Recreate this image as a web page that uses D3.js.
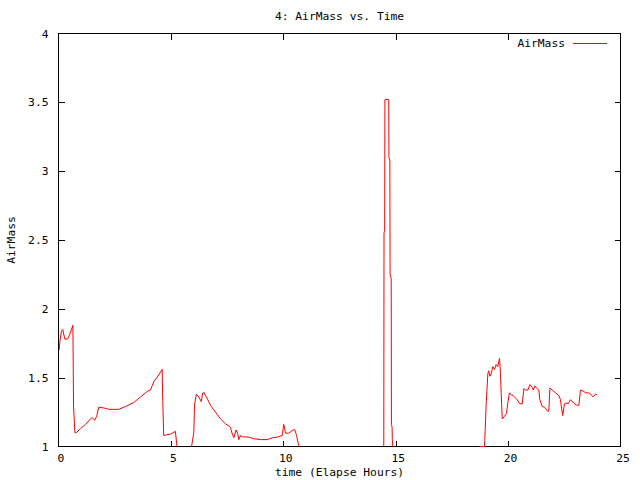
<!DOCTYPE html>
<html>
<head>
<meta charset="utf-8">
<script src="https://cdn.jsdelivr.net/npm/d3@7"></script>
<style>
  html, body { margin: 0; padding: 0; background: #fff; }
  svg { display: block; }
  text { font-family: "DejaVu Sans Mono", monospace; font-size: 11.3px; fill: #000; }
</style>
</head>
<body>
<svg id="chart" width="640" height="480"></svg>
<script>
// ---- data ----
const title = "4: AirMass vs. Time";
const xLabel = "time (Elapse Hours)";
const yLabel = "AirMass";
const seriesName = "AirMass";
const xTicks = [0, 5, 10, 15, 20, 25];
const yTicks = [1, 1.5, 2, 2.5, 3, 3.5, 4];

// elapsed hours
const timeHours = [
  0.03, 0.06, 0.13, 0.19, 0.28, 0.40, 0.49, 0.64, 0.65, 0.67, 0.73, 0.79, 0.98, 1.20, 1.42,
  1.50, 1.61, 1.70, 1.79, 2.02, 2.24, 2.68, 2.98, 3.35, 3.65, 3.95, 4.09, 4.24, 4.46, 4.61,
  4.64, 4.68, 4.80, 4.98, 5.20, 5.27,
  5.60,
  5.92, 6.02, 6.05, 6.13, 6.24, 6.35, 6.42, 6.46, 6.61, 6.76, 6.98, 7.21, 7.43, 7.65, 7.70,
  7.80, 7.90, 7.98, 8.02, 8.10, 8.17, 8.32, 8.47, 8.69, 8.99, 9.28, 9.51, 9.73, 9.95, 10.02,
  10.10, 10.24, 10.40, 10.51, 10.59, 10.66, 10.71,
  12.50,
  14.47, 14.48, 14.51, 14.52, 14.69, 14.70, 14.74, 14.75, 14.80, 14.81, 14.84, 14.85, 14.87,
  17.00,
  18.74, 18.95, 18.98, 19.03, 19.10, 19.14, 19.19, 19.25, 19.32, 19.40, 19.47, 19.54, 19.62,
  19.66, 19.71, 19.74, 19.84, 19.93, 19.99, 20.06, 20.14, 20.23, 20.40, 20.52, 20.63, 20.70,
  20.77, 20.88, 20.97, 21.07, 21.12, 21.19, 21.29, 21.37, 21.41, 21.52, 21.62, 21.74, 21.81,
  21.86, 21.96, 22.11, 22.26, 22.33, 22.36, 22.43, 22.51, 22.58, 22.67, 22.78, 22.92, 23.04,
  23.15, 23.22, 23.37, 23.44, 23.59, 23.74, 23.78, 23.89, 23.96
];

// airmass (values below 1 are off the plotted range and get clipped)
const airMass = [
  1.70, 1.76, 1.84, 1.85, 1.78, 1.78, 1.81, 1.88, 1.68, 1.29, 1.10, 1.10, 1.13, 1.16, 1.20,
  1.21, 1.19, 1.22, 1.285, 1.28, 1.27, 1.27, 1.29, 1.32, 1.36, 1.40, 1.41, 1.47, 1.52, 1.56,
  1.32, 1.08, 1.085, 1.09, 1.11, 1.00,
  0.00,
  1.00, 1.105, 1.30, 1.38, 1.36, 1.327, 1.39, 1.395, 1.35, 1.30, 1.25, 1.20, 1.165, 1.14, 1.105,
  1.063, 1.12, 1.09, 1.05, 1.08, 1.07, 1.07, 1.068, 1.056, 1.05, 1.05, 1.063, 1.068, 1.08, 1.16,
  1.097, 1.097, 1.116, 1.123, 1.08, 1.024, 1.00,
  0.00,
  1.00, 2.55, 2.57, 3.52, 3.52, 3.10, 3.08, 2.25, 2.22, 1.16, 1.14, 1.05, 1.00,
  0.00,
  1.00, 1.00, 1.116, 1.327, 1.53, 1.55, 1.51, 1.53, 1.58, 1.56, 1.595, 1.58, 1.64,
  1.53, 1.31, 1.20, 1.22, 1.24, 1.32, 1.39, 1.375, 1.37, 1.34, 1.31, 1.31, 1.42,
  1.41, 1.41, 1.45, 1.43, 1.41, 1.44, 1.42, 1.41, 1.34, 1.29, 1.285, 1.26, 1.256,
  1.426, 1.41, 1.39, 1.37, 1.34, 1.30, 1.225, 1.31, 1.317, 1.31, 1.34, 1.315, 1.30,
  1.30, 1.41, 1.40, 1.39, 1.39, 1.37, 1.36, 1.38, 1.375
];

// ---- layout ----
const svg = d3.select("#chart");
const L = 58.5, R = 620.5, T = 33.5, B = 446.5;
const x = d3.scaleLinear().domain([0, 25]).range([L, R]);
const y = d3.scaleLinear().domain([1, 4]).range([B, T]);
const tickLen = 6;

// frame
svg.append("rect")
  .attr("x", L).attr("y", T).attr("width", R - L).attr("height", B - T)
  .attr("fill", "none").attr("stroke", "#000").attr("stroke-width", 1)
  .attr("shape-rendering", "crispEdges");

// axes: bottom/left with labels, top/right mirrored without labels
const fmt = d => String(d);
const axB = svg.append("g").attr("transform", `translate(0,${B})`)
  .call(d3.axisBottom(x).tickValues(xTicks).tickSize(-tickLen).tickPadding(7).tickFormat(fmt));
const axT = svg.append("g").attr("transform", `translate(0,${T})`)
  .call(d3.axisTop(x).tickValues(xTicks.slice(1, -1)).tickSize(-tickLen).tickFormat(""));
const axL = svg.append("g").attr("transform", `translate(${L},0)`)
  .call(d3.axisLeft(y).tickValues(yTicks).tickSize(-tickLen).tickPadding(10).tickFormat(fmt));
const axR = svg.append("g").attr("transform", `translate(${R},0)`)
  .call(d3.axisRight(y).tickValues(yTicks.slice(1, -1)).tickSize(-tickLen).tickFormat(""));

[axB, axT, axL, axR].forEach(g => {
  g.select(".domain").remove();
  g.selectAll(".tick line").attr("stroke", "#000").attr("shape-rendering", "crispEdges");
  g.selectAll("text").attr("font-family", null).attr("font-size", null).attr("fill", "#000");
});
axB.selectAll("text").attr("dx", 2);
axB.selectAll(".tick line").filter(d => d === 0 || d === 25).remove();
axL.selectAll(".tick line").filter(d => d === 1 || d === 4).remove();

// line
svg.append("defs").append("clipPath").attr("id", "plotclip")
  .append("rect").attr("x", L - 0.5).attr("y", T - 0.5)
  .attr("width", R - L + 1).attr("height", B - T + 1);

const pts = timeHours.map((t, i) => [t, airMass[i]]);
svg.append("path")
  .datum(pts)
  .attr("clip-path", "url(#plotclip)")
  .attr("fill", "none")
  .attr("stroke", "#ff0000")
  .attr("stroke-width", 1)
  .attr("d", d3.line().x(d => x(d[0])).y(d => y(d[1])));

// title and axis labels
svg.append("text").attr("x", (L + R) / 2).attr("y", 20)
  .attr("text-anchor", "middle").text(title);
svg.append("text").attr("x", (L + R) / 2).attr("y", 476)
  .attr("text-anchor", "middle").text(xLabel);
svg.append("text")
  .attr("transform", `translate(15,${(T + B) / 2}) rotate(-90)`)
  .attr("text-anchor", "middle").text(yLabel);

// legend
svg.append("text").attr("x", 565).attr("y", 47)
  .attr("text-anchor", "end").text(seriesName);
svg.append("line")
  .attr("x1", 573).attr("x2", 607).attr("y1", 43.5).attr("y2", 43.5)
  .attr("stroke", "#ff0000").attr("stroke-width", 1);
</script>
</body>
</html>
